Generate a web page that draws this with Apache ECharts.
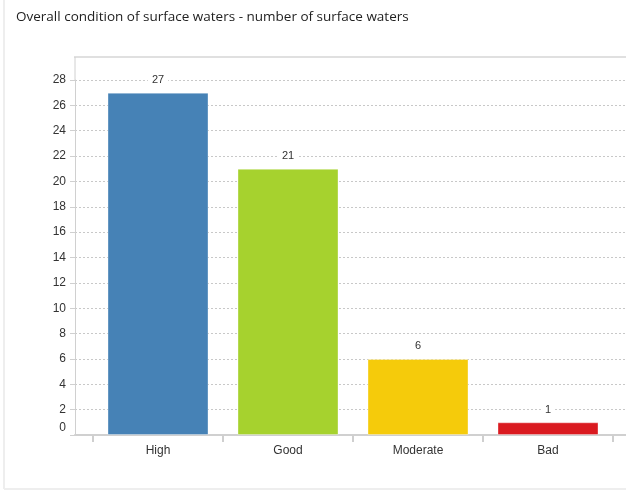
<!DOCTYPE html>
<html>
<head>
<meta charset="utf-8">
<script src="https://cdn.jsdelivr.net/npm/echarts@6/dist/echarts.min.js"></script>
<style>
html,body{margin:0;padding:0;background:#fff;}
#c{width:626px;height:491px;}
</style>
</head>
<body>
<div id="c"></div>
<script>
const categories = ['High', 'Good', 'Moderate', 'Bad'];
const values = [27, 21, 6, 1];
const colors = ['#4682b6', '#a6d22e', '#f5cb0b', '#da1a20'];
const yTicks = {min: 0, max: 28, interval: 2};
const titleText = 'Overall condition of surface waters - number of surface waters';

const chart = echarts.init(document.getElementById('c'));
chart.setOption({
  animation: false,
  backgroundColor: '#fff',
  title: {
    text: titleText, left: 11, top: 5,
    textStyle: {fontFamily: 'Open Sans', fontSize: 13.5, fontWeight: 'normal', color: '#222'}
  },
  graphic: [
    {type: 'line', shape: {x1: 4, y1: 0, x2: 4, y2: 489}, style: {stroke: '#eeeeee', lineWidth: 2}, silent: true},
    {type: 'line', shape: {x1: 4, y1: 489, x2: 626, y2: 489}, style: {stroke: '#eeeeee', lineWidth: 2}, silent: true},
    {type: 'line', shape: {x1: 74, y1: 57, x2: 626, y2: 57}, style: {stroke: '#e0e0e0', lineWidth: 2}, silent: true},
    {type: 'line', shape: {x1: 75, y1: 57, x2: 75, y2: 80}, style: {stroke: '#d0d0d0', lineWidth: 1}, silent: true}
  ],
  grid: [
    {left: 75, top: 80, right: 0, bottom: 56, outerBoundsMode: 'none', containLabel: false},
    {left: 93, top: 80, right: 13, bottom: 56, outerBoundsMode: 'none', containLabel: false}
  ],
  xAxis: [
    {gridIndex: 0, type: 'value', min: 0, max: 1, axisLabel: {show: false}, axisTick: {show: false}, splitLine: {show: false},
     axisLine: {show: true, lineStyle: {color: '#d0d0d0', width: 2}}},
    {gridIndex: 1, type: 'category', data: categories,
     axisLine: {show: false},
     axisTick: {show: true, length: 7, lineStyle: {color: '#cfcfcf', width: 2}},
     axisLabel: {fontFamily: 'Liberation Sans', fontSize: 12, color: '#333', margin: 10}}
  ],
  yAxis: [
    {gridIndex: 0, type: 'value', min: yTicks.min, max: yTicks.max, interval: yTicks.interval,
     axisLine: {show: true, lineStyle: {color: '#d0d0d0', width: 1}},
     axisTick: {show: true, length: 5, lineStyle: {color: '#d0d0d0'}},
     splitLine: {show: true, lineStyle: {color: '#c8c8c8', type: [2, 2], width: 1}},
     axisLabel: {fontFamily: 'Liberation Sans', fontSize: 12, color: '#333', margin: 9,
       formatter: v => v === 0 ? '{z|0}' : String(v),
       rich: {z: {fontFamily: 'Liberation Sans', fontSize: 12, color: '#333', padding: [0, 0, 14, 0]}}}},
    {gridIndex: 1, type: 'value', min: yTicks.min, max: yTicks.max, show: false}
  ],
  series: [{
    type: 'bar', xAxisIndex: 1, yAxisIndex: 1,
    data: values.map((v, i) => ({value: v, itemStyle: {color: colors[i]}})),
    barWidth: 101,
    itemStyle: {borderColor: 'rgba(255,255,255,0.35)', borderWidth: 1},
    label: {show: true, position: 'top', distance: 6, fontFamily: 'Liberation Sans', fontSize: 11, color: '#333',
      backgroundColor: '#fff', padding: [1, 4]}
  }]
});
</script>
</body>
</html>
